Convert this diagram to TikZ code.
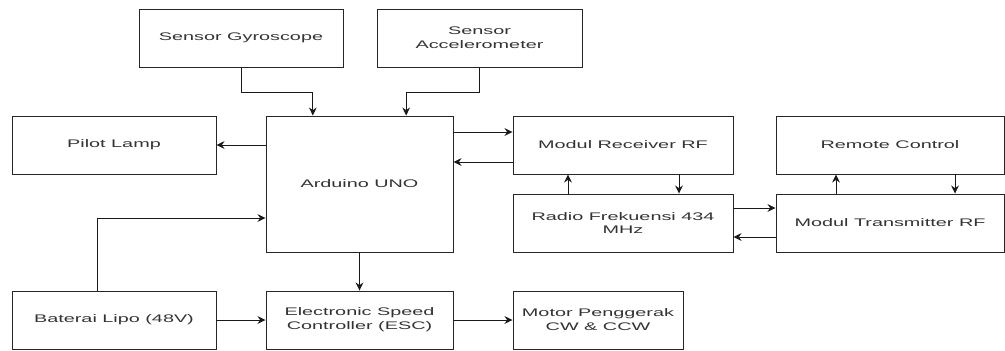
\documentclass[tikz,border=0pt]{standalone}
\usepackage{fontspec}
\newfontfamily\blocksans[FakeStretch=1.8]{Liberation Sans}
\usetikzlibrary{arrows.meta,positioning}

\begin{document}
\begin{tikzpicture}[x=0.03cm,y=-0.03cm,>=Stealth,
  blok/.style={draw=black!85,line width=0.8pt,minimum height=1.74cm,align=center,text=black!80,inner sep=1pt,font=\blocksans\fontsize{9.4}{11.9}\selectfont},
  panah/.style={->,line width=0.8pt,draw=black!90,>={Stealth[length=2.4mm,width=2.3mm]}}]
\useasboundingbox (0,0) rectangle (1005,350);
\node[blok,minimum width=6.12cm] (gyro) at (241,38) {Sensor Gyroscope};
\node[blok,minimum width=6.15cm] (accel) at (479.5,38) {Sensor\\Accelerometer};
\node[blok,minimum width=6.12cm] (pilot) at (114,145) {Pilot Lamp};
\node[blok,minimum width=5.61cm,minimum height=4.08cm] (uno) at (359.5,184) {Arduino UNO};
\node[blok,minimum width=6.6cm] (rx) at (623,145) {Modul Receiver RF};
\node[blok,minimum width=6.84cm] (remote) at (890,145) {Remote Control};
\node[blok,minimum width=6.6cm] (radio) at (623,223) {Radio Frekuensi 434\\MHz};
\node[blok,minimum width=6.84cm] (tx) at (890,223) {Modul Transmitter RF};
\node[blok,minimum width=6.12cm] (batt) at (114,320) {Baterai Lipo (48V)};
\node[blok,minimum width=5.61cm] (esc) at (359.5,320) {Electronic Speed\\Controller (ESC)};
\node[blok,minimum width=5.1cm] (motor) at (598,320) {Motor Penggerak\\CW \& CCW};
% sensor ke arduino
\draw[panah] (gyro.south) -- ++(0,25) -| ([xshift=-1.4cm]uno.north);
\draw[panah] (accel.south) -- ++(0,25) -| ([xshift=1.4cm]uno.north);
\draw[panah] (uno.west |- pilot.east) -- (pilot.east);
% arduino dan receiver
\draw[panah] ([yshift=0.39cm]uno.east |- rx.west) -- ([yshift=0.39cm]rx.west);
\draw[panah] ([yshift=-0.51cm]rx.west) -- ([yshift=-0.51cm]uno.east |- rx.west);
\draw[panah] ([xshift=-1.65cm]radio.north) -- ([xshift=-1.65cm]rx.south);
\draw[panah] ([xshift=1.68cm]rx.south) -- ([xshift=1.68cm]radio.north);
% radio dan transmitter
\draw[panah] ([yshift=0.45cm]radio.east) -- ([yshift=0.45cm]tx.west);
\draw[panah] ([yshift=-0.42cm]tx.west) -- ([yshift=-0.42cm]radio.east);
\draw[panah] ([xshift=-1.62cm]tx.north) -- ([xshift=-1.62cm]remote.south);
\draw[panah] ([xshift=1.95cm]remote.south) -- ([xshift=1.95cm]tx.north);
% daya dan motor
\draw[panah] (uno.south) -- (esc.north);
\draw[panah] (batt.east) -- (esc.west);
\draw[panah] (esc.east) -- (motor.west);
\draw[panah] ([xshift=-0.51cm]batt.north) |- ([yshift=-1.02cm]uno.west);
\end{tikzpicture}
\end{document}
